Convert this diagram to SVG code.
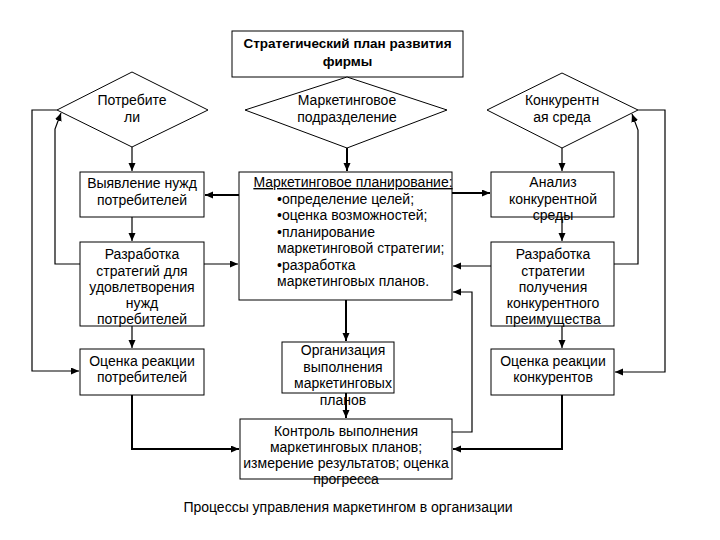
<svg xmlns="http://www.w3.org/2000/svg" width="720" height="540" viewBox="0 0 720 540">
<style>
.box{fill:#fff;stroke:#000;stroke-width:1}
.t{font-family:"Liberation Sans",Arial,sans-serif;font-size:14px;fill:#000;text-anchor:middle}
.l{text-anchor:start}
.b{font-weight:bold;font-size:13.5px}
.c{fill:none;stroke:#000;stroke-width:1.2}
.k{stroke-width:2}
</style>
<defs>
<marker id="a" markerUnits="userSpaceOnUse" markerWidth="9" markerHeight="8" refX="8" refY="3.5" orient="auto">
<path d="M0,0 L8,3.5 L0,7 z" fill="#000"/>
</marker>
</defs>
<rect width="720" height="540" fill="#fff"/>
<g id="connectors">
<path class="c k" d="M347,148 V171" marker-end="url(#a)"/>
<path class="c k" d="M239,195 H205" marker-end="url(#a)"/>
<path class="c k" d="M452,193 H490" marker-end="url(#a)"/>
<path class="c" d="M204,264 H238" marker-end="url(#a)"/>
<path class="c" d="M491,266 H453" marker-end="url(#a)"/>
<path class="c k" d="M346,300 V341" marker-end="url(#a)"/>
<path class="c k" d="M346,393 V418" marker-end="url(#a)"/>
<path class="c" d="M132,147 V171" marker-end="url(#a)"/>
<path class="c" d="M132,217 V241" marker-end="url(#a)"/>
<path class="c" d="M132,326 V348" marker-end="url(#a)"/>
<path class="c" d="M562,148 V171" marker-end="url(#a)"/>
<path class="c" d="M562,217 V241" marker-end="url(#a)"/>
<path class="c" d="M562,326 V348" marker-end="url(#a)"/>
<path class="c" d="M80,264 H55 V129 L61,113" marker-end="url(#a)"/>
<path class="c" d="M614,264 H638 V130 L632,114" marker-end="url(#a)"/>
<path class="c" d="M57,110 H32 V371 H79" marker-end="url(#a)"/>
<path class="c" d="M638,110 H665 V372 H615" marker-end="url(#a)"/>
<path class="c k" d="M132,395 V449 H239" marker-end="url(#a)"/>
<path class="c k" d="M562,395 V449 H453" marker-end="url(#a)"/>
<path class="c" d="M452,432 H472 V292 H453" marker-end="url(#a)"/>
</g>
<g id="title">
<rect class="box" x="232" y="31" width="231" height="46"/>
<text class="t b" x="347.5" y="48">Стратегический план развития</text>
<text class="t b" x="347.5" y="66">фирмы</text>
</g>
<g id="consumers">
<polygon class="box" points="132,72 208,110 132,147 57,110"/>
<text class="t" x="132" y="105">Потребите</text>
<text class="t" x="132" y="122">ли</text>
</g>
<g id="marketing-dept">
<polygon class="box" points="347,77 447,110 347,148 245,110"/>
<text class="t" x="347" y="105">Маркетинговое</text>
<text class="t" x="347" y="122">подразделение</text>
</g>
<g id="competitive-env">
<polygon class="box" points="562,73 638,110 562,148 487,110"/>
<text class="t" x="562" y="105">Конкурентн</text>
<text class="t" x="562" y="122">ая среда</text>
</g>
<g id="needs">
<rect class="box" x="80" y="172" width="124" height="45"/>
<text class="t" x="142" y="188">Выявление нужд</text>
<text class="t" x="142" y="205">потребителей</text>
</g>
<g id="planning">
<rect class="box" x="239" y="172" width="213" height="128"/>
<text class="t" x="353" y="187" text-decoration="underline">Маркетинговое планирование:</text>
<text class="t l" x="277" y="203.5">•определение целей;</text>
<text class="t l" x="277" y="220">•оценка возможностей;</text>
<text class="t l" x="277" y="236.5">•планирование</text>
<text class="t l" x="277" y="253">маркетинговой стратегии;</text>
<text class="t l" x="277" y="269.5">•разработка</text>
<text class="t l" x="277" y="286">маркетинговых планов.</text>
</g>
<g id="analysis">
<rect class="box" x="491" y="172" width="123" height="45"/>
<text class="t" x="553" y="187">Анализ</text>
<text class="t" x="553" y="204">конкурентной</text>
<text class="t" x="553" y="220">среды</text>
</g>
<g id="strategy-needs">
<rect class="box" x="80" y="242" width="124" height="84"/>
<text class="t" x="142" y="259">Разработка</text>
<text class="t" x="142" y="275.5">стратегий для</text>
<text class="t" x="142" y="292">удовлетворения</text>
<text class="t" x="142" y="308">нужд</text>
<text class="t" x="142" y="324">потребителей</text>
</g>
<g id="strategy-advantage">
<rect class="box" x="491" y="242" width="123" height="84"/>
<text class="t" x="553" y="259">Разработка</text>
<text class="t" x="553" y="275.5">стратегии</text>
<text class="t" x="553" y="292">получения</text>
<text class="t" x="553" y="308">конкурентного</text>
<text class="t" x="553" y="324">преимущества</text>
</g>
<g id="reaction-consumers">
<rect class="box" x="80" y="349" width="124" height="46"/>
<text class="t" x="142" y="366">Оценка реакции</text>
<text class="t" x="142" y="382">потребителей</text>
</g>
<g id="organization">
<rect class="box" x="282" y="342" width="112" height="51"/>
<text class="t" x="343" y="355">Организация</text>
<text class="t" x="343" y="371.5">выполнения</text>
<text class="t" x="343" y="388">маркетинговых</text>
<text class="t" x="343" y="405">планов</text>
</g>
<g id="reaction-competitors">
<rect class="box" x="491" y="349" width="123" height="46"/>
<text class="t" x="553" y="366">Оценка реакции</text>
<text class="t" x="553" y="382">конкурентов</text>
</g>
<g id="control">
<rect class="box" x="240" y="419" width="212" height="60"/>
<text class="t" x="346" y="436">Контроль выполнения</text>
<text class="t" x="346" y="452">маркетинговых планов;</text>
<text class="t" x="346" y="468">измерение результатов; оценка</text>
<text class="t" x="346" y="484">прогресса</text>
</g>
<text class="t" x="348" y="512">Процессы управления маркетингом в организации</text>
</svg>
